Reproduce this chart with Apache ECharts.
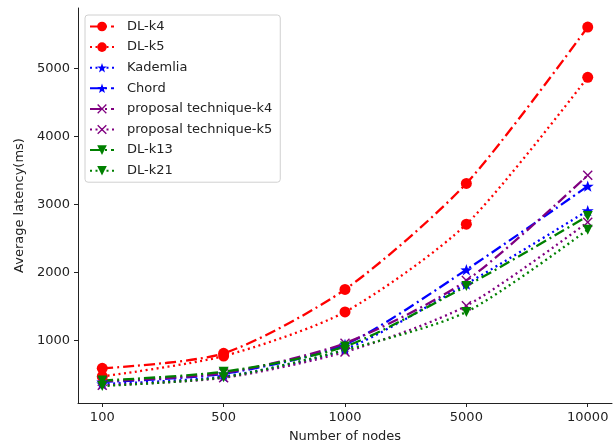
<!DOCTYPE html>
<html>
<head>
<meta charset="utf-8">
<script src="https://cdn.jsdelivr.net/npm/echarts@6/dist/echarts.min.js"></script>
<style>
  html, body { margin: 0; padding: 0; background: #fff; }
  #main { width: 613px; height: 448px; }
</style>
</head>
<body>
<div id="main"></div>
<script>
  // node counts on the x axis
  var nodes = ['100', '500', '1000', '5000', '10000'];
  var yTicks = [1000, 2000, 3000, 4000, 5000];

  // average latency (ms) per series
  var dlK4 = [590, 810, 1750, 3310, 5610];
  var dlK5 = [470, 770, 1420, 2710, 4870];
  var kademlia = [360, 470, 870, 1830, 2910];
  var chord = [390, 510, 940, 2040, 3270];
  var propK4 = [400, 520, 960, 1880, 3430];
  var propK5 = [340, 450, 830, 1510, 2740];
  var dlK13 = [410, 540, 910, 1800, 2830];
  var dlK21 = [330, 460, 860, 1420, 2630];

  var dashDot = [11, 4, 2, 4];
  var dotted = [2, 3.5];
  var xMark = 'path://M1,0 L5,4 L9,0 L10,1 L6,5 L10,9 L9,10 L5,6 L1,10 L0,9 L4,5 L0,1 Z';
  var starMark = 'path://M10,0 L12.35,6.76 L19.51,6.91 L13.8,11.24 L15.88,18.09 L10,14 L4.12,18.09 L6.2,11.24 L0.49,6.91 L7.65,6.76 Z';

  function pts(arr) {
    return arr.map(function (v, i) { return [i, v]; });
  }

  function mk(name, data, color, dash, symbol, size, rot) {
    return {
      name: name,
      type: 'line',
      smooth: 0.25,
      data: pts(data),
      symbol: symbol,
      symbolSize: size,
      symbolKeepAspect: true,
      symbolRotate: rot || 0,
      itemStyle: { color: color },
      lineStyle: { color: color, width: 2.3, type: dash },
      z: 2
    };
  }

  var myChart = echarts.init(document.getElementById('main'));

  var option = {
    animation: false,
    textStyle: { fontFamily: 'DejaVu Sans' },
    grid: { left: 78, right: 1, top: 8, bottom: 42 },
    legend: {
      orient: 'vertical',
      left: 85,
      top: 15,
      padding: [5, 8, 5, 4],
      itemWidth: 24,
      itemHeight: 12,
      itemGap: 7.6,
      borderColor: '#d0d0d0',
      borderWidth: 1,
      borderRadius: 3,
      backgroundColor: 'rgba(255,255,255,0.8)',
      textStyle: { fontSize: 13, color: '#222', padding: [0, 0, 0, 8] },
      data: ['DL-k4', 'DL-k5', 'Kademlia', 'Chord', 'proposal technique-k4',
             'proposal technique-k5', 'DL-k13', 'DL-k21']
    },
    xAxis: {
      type: 'value',
      min: -0.2,
      max: 4.2,
      name: 'Number of nodes',
      nameLocation: 'middle',
      nameGap: 27,
      nameTextStyle: { fontSize: 13, color: '#222' },
      axisLine: { onZero: false, lineStyle: { color: '#222', width: 1 } },
      axisTick: { length: 4, customValues: [0, 1, 2, 3, 4], lineStyle: { color: '#222' } },
      axisLabel: {
        customValues: [0, 1, 2, 3, 4],
        fontSize: 13, color: '#222', margin: 8,
        formatter: function (v) { return nodes[Math.round(v)]; }
      },
      splitLine: { show: false }
    },
    yAxis: {
      type: 'value',
      min: 80,
      max: 5890,
      name: 'Average latency(ms)',
      nameLocation: 'middle',
      nameGap: 46,
      nameTextStyle: { fontSize: 13, color: '#222' },
      axisLine: { show: true, onZero: false, lineStyle: { color: '#222', width: 1 } },
      axisTick: { show: true, length: 4, customValues: yTicks, lineStyle: { color: '#222' } },
      axisLabel: {
        customValues: yTicks, fontSize: 13, color: '#222', margin: 8,
        formatter: function (v) { return String(v); }
      },
      splitLine: { show: false }
    },
    series: [
      mk('DL-k4', dlK4, '#ff0000', dashDot, 'circle', 11),
      mk('DL-k5', dlK5, '#ff0000', dotted, 'circle', 11),
      mk('Kademlia', kademlia, '#0000ff', dotted, starMark, 12),
      mk('Chord', chord, '#0000ff', dashDot, starMark, 12),
      mk('proposal technique-k4', propK4, '#800080', dashDot, xMark, 10),
      mk('proposal technique-k5', propK5, '#800080', dotted, xMark, 10),
      mk('DL-k13', dlK13, '#008000', dashDot, 'triangle', 10, 180),
      mk('DL-k21', dlK21, '#008000', dotted, 'triangle', 10, 180)
    ]
  };

  myChart.setOption(option);
</script>
</body>
</html>
